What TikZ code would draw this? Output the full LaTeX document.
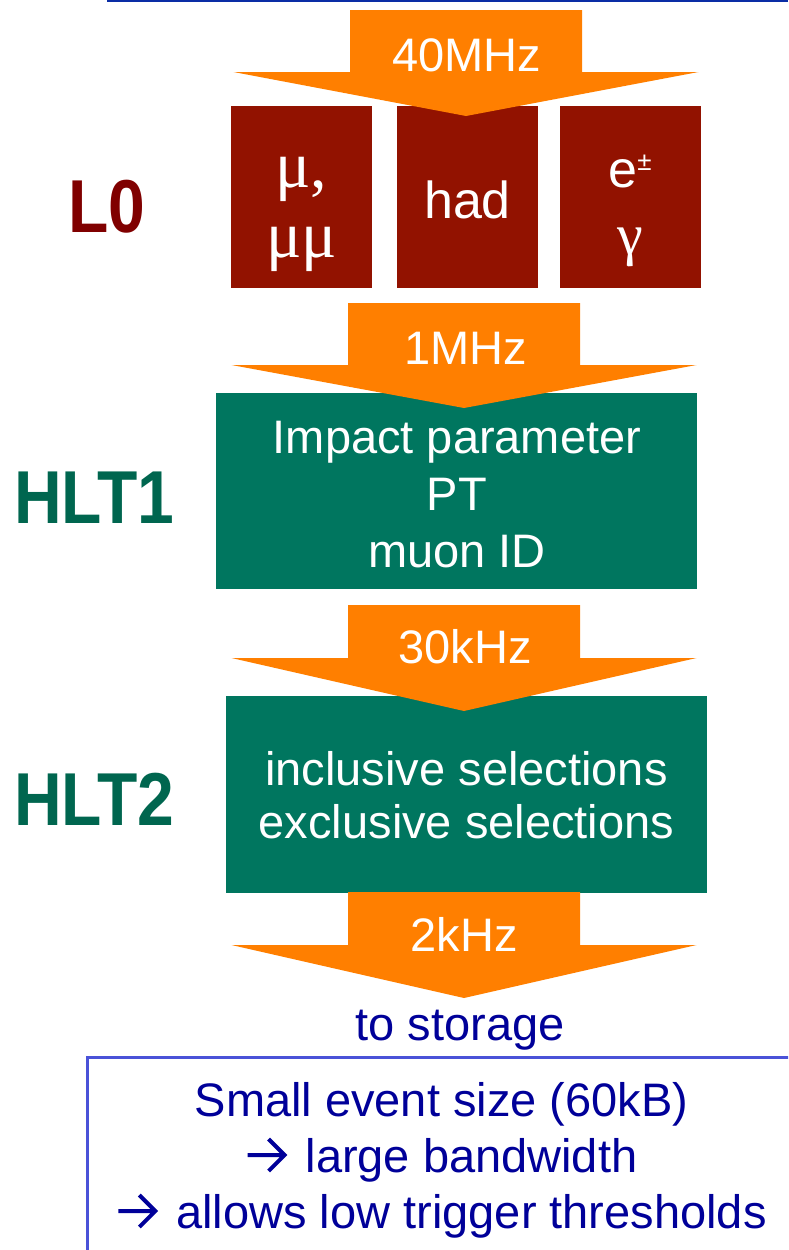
\documentclass[tikz,border=0pt]{standalone}
\usepackage{fontspec}
\setmainfont{Liberation Sans}
\newfontfamily\greekfont{Liberation Serif}
\newfontfamily\tagfont[FakeStretch=0.88]{Liberation Sans}

\definecolor{flow}{HTML}{FF7F00}
\definecolor{lzerofill}{HTML}{921200}
\definecolor{hltfill}{HTML}{00765F}
\definecolor{lzerotext}{HTML}{800000}
\definecolor{hlttext}{HTML}{00664F}
\definecolor{navy}{HTML}{000099}
\definecolor{framecol}{HTML}{4A52D8}
\definecolor{rulecol}{HTML}{0A2DA5}

% block arrow: centre x, top y, shoulder y, tip y
\newcommand\ratearrow[4]{%
  \fill[flow] (#1-116,#2) -- (#1+116,#2) -- (#1+116,#3) -- (#1+232.5,#3)
    -- (#1,#4) -- (#1-232.5,#3) -- (#1-116,#3) -- cycle;}

% open chevron arrow used in running text
\newcommand\thenarrow{%
  \tikz[x=1pt, y=1pt, baseline=0pt]
    \draw[navy, line width=4pt, line join=miter, line cap=butt]
      (0,17) -- (36,17) (21,33) -- (37,17) -- (21,1);\hspace{19pt}}

\tikzset{
  stagebox/.style={inner sep=0pt, outer sep=0pt, draw=none},
  lzerobox/.style={stagebox, fill=lzerofill, minimum width=141pt, minimum height=182pt},
  hltbox/.style={stagebox, fill=hltfill, minimum width=481pt},
  whitetext/.style={text=white, inner sep=0pt, anchor=base},
  ratetext/.style={whitetext, font=\fontsize{47}{56}\selectfont},
  levellabel/.style={inner sep=0pt, anchor=base west, font=\tagfont\bfseries\fontsize{75}{80}\selectfont},
  bluetext/.style={text=navy, inner sep=0pt, anchor=base, font=\fontsize{47}{56}\selectfont},
}

\begin{document}
\begin{tikzpicture}[x=1pt, y=-1pt]
\useasboundingbox (0,0) rectangle (788,1250);
\clip (0,0) rectangle (788,1250);

% rule along the top
\fill[rulecol] (107,0) rectangle (788,2);

% L0 trigger units
\node[lzerobox] (muon) at (301.5,197) {};
\node[lzerobox] (had) at (467.5,197) {};
\node[lzerobox] (egamma) at (630.5,197) {};

% HLT boxes
\node[hltbox, minimum height=196pt] (hltone) at (456.5,491) {};
\node[hltbox, minimum height=197pt] (hlttwo) at (466.5,794.5) {};

% rate arrows
\ratearrow{466}{10}{72}{116}
\ratearrow{464}{303}{365}{408}
\ratearrow{464}{605}{658}{711}
\ratearrow{464}{892}{945}{998}

\node[ratetext] (r40) at (467,71) {40MHz};
\node[ratetext] (r1) at (465.5,364) {1MHz};
\node[ratetext] (r30) at (465,663) {30kHz};
\node[ratetext] (r2) at (464,951) {2kHz};

% texts inside the L0 units
\node[whitetext, font=\greekfont\fontsize{66}{70}\selectfont] (mutxt) at (301.5,187)
  {\begin{tabular}[t]{@{}c@{}}μ,\\μμ\end{tabular}};
\node[whitetext, font=\fontsize{52}{60}\selectfont] (hadtxt) at (467.5,218) {had};
\node[whitetext, font=\fontsize{52}{60}\selectfont] (etxt) at (630,187)
  {e\raisebox{17pt}{\fontsize{26}{26}\selectfont ±}};
\node[whitetext, font=\greekfont\fontsize{58}{70}\selectfont] (gtxt) at (630.5,254) {γ};

% texts inside the HLT boxes
\node[whitetext, font=\fontsize{47}{57}\selectfont] (hltonetxt) at (457,453)
  {\begin{tabular}[t]{@{}c@{}}Impact parameter\\PT\\muon ID\end{tabular}};
\node[whitetext, font=\fontsize{47}{53}\selectfont] (hlttwotxt) at (466.5,785)
  {\begin{tabular}[t]{@{}c@{}}inclusive selections\\exclusive selections\end{tabular}};

% level labels
\node[levellabel, text=lzerotext] (lzero) at (68,232) {L0};
\node[levellabel, text=hlttext] (hltonelbl) at (14,523) {HLT1};
\node[levellabel, text=hlttext] (hlttwolbl) at (14,825) {HLT2};

% output
\node[bluetext] (storage) at (460,1040) {to storage};

% note box
\draw[framecol, line width=3pt] (87.5,1270) -- (87.5,1057.5) -- (810,1057.5);
\node[bluetext] (note) at (441.5,1116)
  {\begin{tabular}[t]{@{}c@{}}Small event size (60kB)\\\thenarrow large bandwidth\\\thenarrow allows low trigger thresholds\end{tabular}};
\end{tikzpicture}
\end{document}
